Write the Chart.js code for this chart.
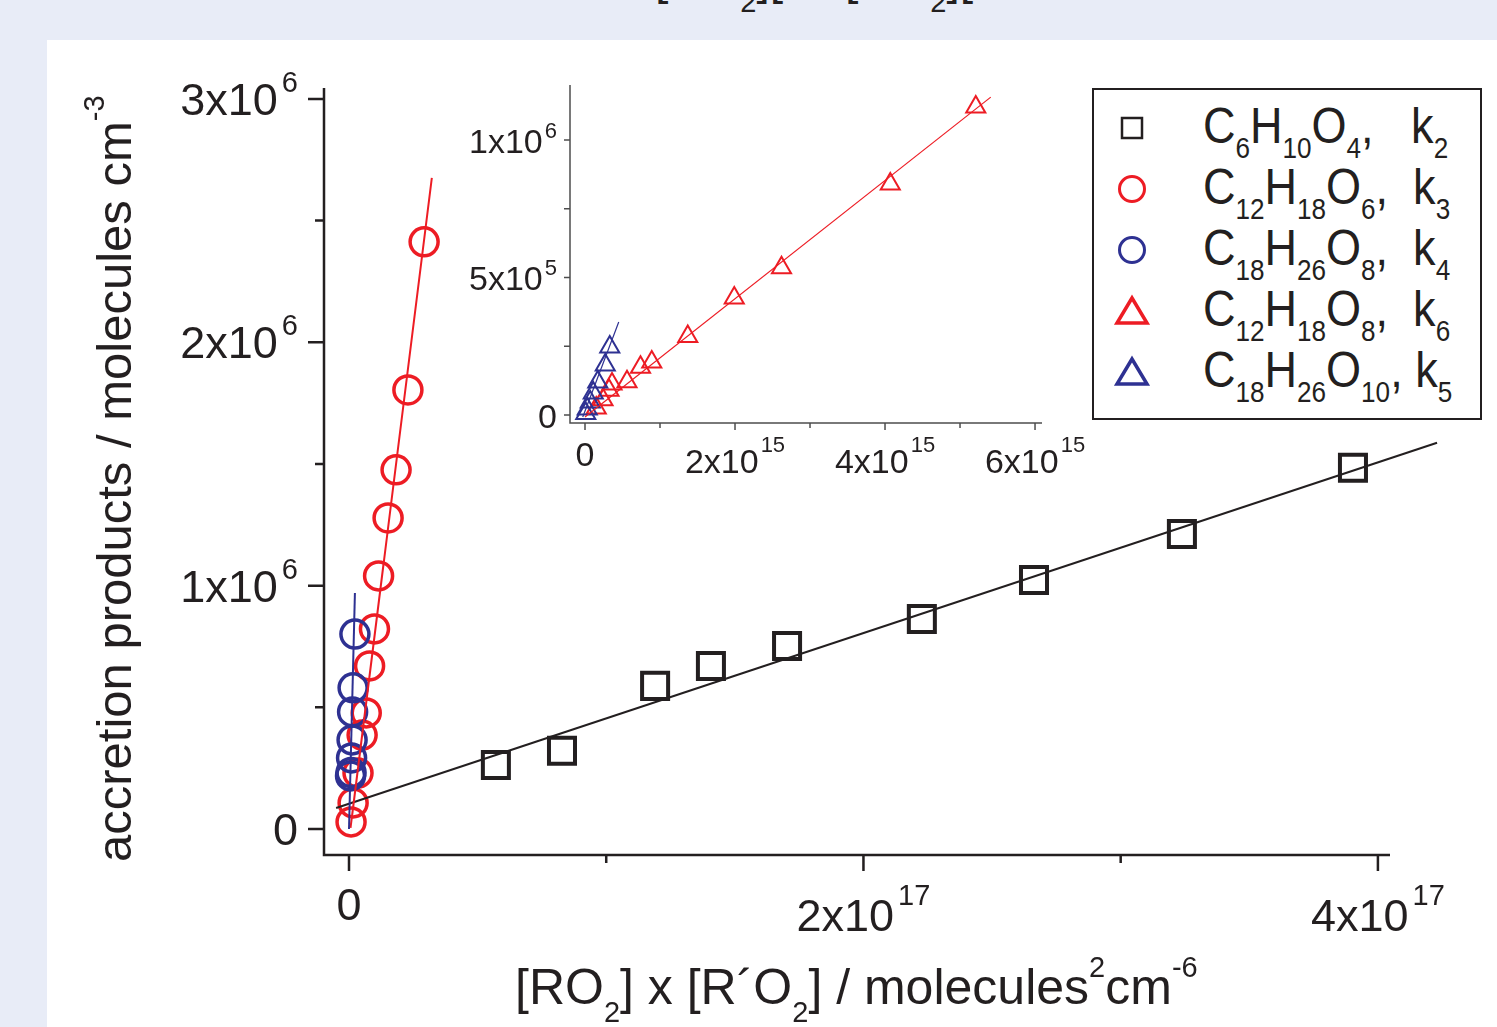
<!DOCTYPE html>
<html lang="en">
<head>
  <meta charset="UTF-8">
  <title>Accretion products vs [RO2] x [R'O2]</title>
  <script src="https://cdn.jsdelivr.net/npm/chart.js"></script>
  <style>
    html, body { margin: 0; padding: 0; }
    body {
      width: 1497px; height: 1027px; overflow: hidden; position: relative;
      background: #e8ecf7;
      font-family: 'Liberation Sans', Arial, sans-serif;
      color: #231f20;
    }
    .panel { position: absolute; left: 47px; top: 40px; right: 0; bottom: 0; background: #fff; }
    /* leftover line of the previous figure, only its bottom shows */
    .cut-text { position: absolute; top: -46px; font-size: 48px; line-height: 1; white-space: nowrap; }
    sub { font-size: 29px; vertical-align: -18px; line-height: 0; }
    sup { font-size: 29px; vertical-align: 27px; line-height: 0; }
    #mainChart { position: absolute; left: 0; top: 0; }
    #insetChart { position: absolute; left: 440px; top: 40px; }
    .y-title {
      position: absolute; left: 90px; top: 862px; font-size: 49px; line-height: 1;
      white-space: nowrap; transform: rotate(-90deg); transform-origin: 0 0;
    }
    .x-title {
      position: absolute; left: 515px; top: 962px; font-size: 50px; line-height: 1; white-space: nowrap;
    }
    .legend {
      position: absolute; left: 1092px; top: 88px; width: 390px; height: 332px;
      box-sizing: border-box; border: 2.5px solid #231f20; background: #fff;
    }
    .legend .row { position: absolute; left: 0; width: 100%; height: 61px; }
    .legend svg { position: absolute; left: 18px; top: 10px; }
    .legend .txt {
      position: absolute; left: 109px; top: 3px; font-size: 50px; line-height: 1; white-space: nowrap;
      transform: scaleX(0.9); transform-origin: 0 0;
    }
    .legend .txt sub { font-size: 29px; vertical-align: -15px; }
  </style>
</head>
<body>
  <div class="cut-text" style="left:655px">[RO<sub>2</sub>][</div>
  <div class="cut-text" style="left:845px">[RO<sub>2</sub>][</div>
  <div class="panel"></div>

  <canvas id="mainChart" width="1497" height="1027"></canvas>
  <canvas id="insetChart" width="660" height="460"></canvas>

  <div class="y-title">accretion products / molecules cm<sup>-3</sup></div>
  <div class="x-title">[RO<sub>2</sub>] x [R&#180;O<sub>2</sub>] / molecules<sup>2</sup>cm<sup>-6</sup></div>

  <!-- legend: formulas need subscripts, so it is plain html -->
  <div class="legend">
    <div class="row" style="top:8px">
      <svg width="40" height="40"><rect x="10" y="10" width="20" height="20" fill="none" stroke="#231f20" stroke-width="2.5"/></svg>
      <span class="txt">C<sub>6</sub>H<sub>10</sub>O<sub>4</sub>,&nbsp;&nbsp; k<sub>2</sub></span>
    </div>
    <div class="row" style="top:69px">
      <svg width="40" height="40"><circle cx="20" cy="20" r="12.5" fill="none" stroke="#ed1c24" stroke-width="3"/></svg>
      <span class="txt">C<sub>12</sub>H<sub>18</sub>O<sub>6</sub>,&nbsp; k<sub>3</sub></span>
    </div>
    <div class="row" style="top:130px">
      <svg width="40" height="40"><circle cx="20" cy="20" r="12.5" fill="none" stroke="#2e3192" stroke-width="3"/></svg>
      <span class="txt">C<sub>18</sub>H<sub>26</sub>O<sub>8</sub>,&nbsp; k<sub>4</sub></span>
    </div>
    <div class="row" style="top:191px">
      <svg width="40" height="40"><polygon points="20,7 35,32 5,32" fill="none" stroke="#ed1c24" stroke-width="3.5"/></svg>
      <span class="txt">C<sub>12</sub>H<sub>18</sub>O<sub>8</sub>,&nbsp; k<sub>6</sub></span>
    </div>
    <div class="row" style="top:252px">
      <svg width="40" height="40"><polygon points="20,7 35,32 5,32" fill="none" stroke="#2e3192" stroke-width="3.5"/></svg>
      <span class="txt">C<sub>18</sub>H<sub>26</sub>O<sub>10</sub>, k<sub>5</sub></span>
    </div>
  </div>

  <script>
    // ---- main plot data (x: molecules^2 cm^-6, y: molecules cm^-3) ----
    const k2X = [0.571e17, 0.828e17, 1.190e17, 1.407e17, 1.703e17, 2.227e17, 2.663e17, 3.238e17, 3.903e17];
    const k2Y = [0.263e6, 0.321e6, 0.588e6, 0.670e6, 0.752e6, 0.863e6, 1.023e6, 1.212e6, 1.484e6];
    const k3X = [0.008e17, 0.016e17, 0.035e17, 0.051e17, 0.067e17, 0.080e17, 0.099e17, 0.115e17, 0.152e17, 0.183e17, 0.229e17, 0.292e17];
    const k3Y = [0.029e6, 0.107e6, 0.230e6, 0.386e6, 0.477e6, 0.670e6, 0.822e6, 1.040e6, 1.278e6, 1.476e6, 1.804e6, 2.413e6];
    const k4X = [0.006e17, 0.008e17, 0.010e17, 0.012e17, 0.014e17, 0.016e17, 0.023e17];
    const k4Y = [0.218e6, 0.232e6, 0.292e6, 0.366e6, 0.481e6, 0.580e6, 0.801e6];
    // fitted lines (end points)
    const fitK2X = [-0.05e17, 4.23e17], fitK2Y = [0.086e6, 1.587e6];
    const fitK3X = [0.006e17, 0.322e17], fitK3Y = [0.004e6, 2.676e6];
    const fitK4X = [0.000e17, 0.023e17], fitK4Y = [0.000e6, 0.970e6];

    // ---- inset data ----
    const k6X = [0.15e15, 0.24e15, 0.32e15, 0.36e15, 0.56e15, 0.74e15, 0.89e15, 1.37e15, 1.99e15, 2.62e15, 4.07e15, 5.21e15];
    const k6Y = [0.025e6, 0.055e6, 0.090e6, 0.113e6, 0.121e6, 0.174e6, 0.193e6, 0.285e6, 0.425e6, 0.535e6, 0.840e6, 1.120e6];
    const k5X = [0.01e15, 0.03e15, 0.07e15, 0.11e15, 0.17e15, 0.27e15, 0.33e15];
    const k5Y = [0.005e6, 0.022e6, 0.047e6, 0.080e6, 0.120e6, 0.182e6, 0.247e6];
    const fitK6X = [0.00e15, 5.41e15], fitK6Y = [-0.007e6, 1.156e6];
    const fitK5X = [-0.03e15, 0.45e15], fitK5Y = [-0.007e6, 0.338e6];

    // ---- tick labels ----
    const mainXTicks = [0, 2e17, 4e17], mainXBase = ['0', '2x10', '4x10'], mainXExp = ['', '17', '17'];
    const mainXMinor = [1e17, 3e17];
    const mainYTicks = [0, 1e6, 2e6, 3e6], mainYBase = ['0', '1x10', '2x10', '3x10'], mainYExp = ['', '6', '6', '6'];
    const mainYMinor = [0.5e6, 1.5e6, 2.5e6];
    const insetXTicks = [0, 2e15, 4e15, 6e15], insetXBase = ['0', '2x10', '4x10', '6x10'], insetXExp = ['', '15', '15', '15'];
    const insetXMinor = [1e15, 3e15, 5e15];
    const insetYTicks = [0, 5e5, 1e6], insetYBase = ['0', '5x10', '1x10'], insetYExp = ['', '5', '6'];
    const insetYMinor = [2.5e5, 7.5e5];

    const BLACK = '#231f20', RED = '#ed1c24', BLUE = '#2e3192';
    const FONT = '"Liberation Sans", Arial, sans-serif';

    function pts(xs, ys) { return xs.map((x, i) => ({ x: x, y: ys[i] })); }

    // draws axis lines, major/minor ticks and the x10^n labels
    function drawAxes(chart, ax) {
      const ctx = chart.ctx;
      const xs = chart.scales.x, ys = chart.scales.y;
      const a = chart.chartArea;
      ctx.save();
      ctx.strokeStyle = ax.color;
      ctx.lineWidth = ax.lineWidth;
      ctx.beginPath();
      ctx.moveTo(a.left, a.top);
      ctx.lineTo(a.left, a.bottom);
      ctx.lineTo(a.right, a.bottom);
      ctx.stroke();

      ctx.lineWidth = ax.tickWidth;
      ctx.beginPath();
      ax.xTicks.forEach(v => { const p = xs.getPixelForValue(v); ctx.moveTo(p, a.bottom); ctx.lineTo(p, a.bottom + ax.xMajorLen); });
      ax.xMinor.forEach(v => { const p = xs.getPixelForValue(v); ctx.moveTo(p, a.bottom); ctx.lineTo(p, a.bottom + ax.xMinorLen); });
      ax.yTicks.forEach(v => { const p = ys.getPixelForValue(v); ctx.moveTo(a.left, p); ctx.lineTo(a.left - ax.yMajorLen, p); });
      ax.yMinor.forEach(v => { const p = ys.getPixelForValue(v); ctx.moveTo(a.left, p); ctx.lineTo(a.left - ax.yMinorLen, p); });
      ctx.stroke();

      ctx.fillStyle = BLACK;
      ctx.textAlign = 'left';
      ctx.textBaseline = 'alphabetic';
      const baseFont = ax.baseSize + 'px ' + FONT, expFont = ax.expSize + 'px ' + FONT;
      function widths(b, e) {
        ctx.font = baseFont; const wb = ctx.measureText(b).width;
        ctx.font = expFont; const we = e ? ctx.measureText(e).width + ax.expGap : 0;
        return [wb, we];
      }
      ax.xTicks.forEach((v, i) => {
        const p = xs.getPixelForValue(v);
        const [wb, we] = widths(ax.xBase[i], ax.xExp[i]);
        const x0 = p - (wb + we) / 2;
        ctx.font = baseFont;
        ctx.fillText(ax.xBase[i], x0, a.bottom + (ax.xExp[i] ? ax.xBaseOffExp : ax.xBaseOff));
        if (ax.xExp[i]) { ctx.font = expFont; ctx.fillText(ax.xExp[i], x0 + wb + ax.expGap, a.bottom + ax.xExpOff); }
      });
      ax.yTicks.forEach((v, i) => {
        const p = ys.getPixelForValue(v);
        const [wb, we] = widths(ax.yBase[i], ax.yExp[i]);
        const x0 = a.left - ax.yGap - wb - we;
        ctx.font = baseFont;
        ctx.fillText(ax.yBase[i], x0, p + ax.yBaseOff);
        if (ax.yExp[i]) { ctx.font = expFont; ctx.fillText(ax.yExp[i], x0 + wb + ax.expGap, p + ax.yExpOff); }
      });
      ctx.restore();
    }

    const axesPlugin = {
      id: 'customAxes',
      afterDraw(chart, args, opts) { drawAxes(chart, opts); }
    };

    // ---- main chart ----
    new Chart(document.getElementById('mainChart'), {
      type: 'scatter',
      data: {
        datasets: [
          { label: 'C6H10O4, k2', data: pts(k2X, k2Y), pointStyle: 'rect', pointRadius: 18.4,
            borderColor: BLACK, backgroundColor: 'transparent', pointBorderWidth: 4, order: 6 },
          { label: 'C12H18O6, k3', data: pts(k3X, k3Y), pointStyle: 'circle', pointRadius: 14,
            borderColor: RED, backgroundColor: 'transparent', pointBorderWidth: 3.5, order: 5 },
          { label: 'C18H26O8, k4', data: pts(k4X, k4Y), pointStyle: 'circle', pointRadius: 14,
            borderColor: BLUE, backgroundColor: 'transparent', pointBorderWidth: 3.5, order: 4 },
          { label: 'fit k2', data: pts(fitK2X, fitK2Y), showLine: true, pointRadius: 0,
            borderColor: BLACK, borderWidth: 2, order: 3 },
          { label: 'fit k3', data: pts(fitK3X, fitK3Y), showLine: true, pointRadius: 0,
            borderColor: RED, borderWidth: 2, order: 2 },
          { label: 'fit k4', data: pts(fitK4X, fitK4Y), showLine: true, pointRadius: 0,
            borderColor: BLUE, borderWidth: 2, order: 1 }
        ]
      },
      options: {
        responsive: false,
        animation: false,
        clip: false,
        layout: { padding: { left: 324, right: 107, top: 88, bottom: 172 } },
        scales: {
          x: { type: 'linear', display: false, min: -0.0972e17, max: 4.047e17 },
          y: { type: 'linear', display: false, min: -0.107e6, max: 3.045e6 }
        },
        plugins: {
          legend: { display: false },
          tooltip: { enabled: false },
          customAxes: {
            color: BLACK, lineWidth: 2.5, tickWidth: 2.5,
            xMajorLen: 16, xMinorLen: 8, yMajorLen: 16, yMinorLen: 9,
            xTicks: mainXTicks, xBase: mainXBase, xExp: mainXExp, xMinor: mainXMinor,
            yTicks: mainYTicks, yBase: mainYBase, yExp: mainYExp, yMinor: mainYMinor,
            baseSize: 45, expSize: 29, expGap: 4,
            xBaseOff: 65, xBaseOffExp: 76, xExpOff: 50,
            yGap: 26, yBaseOff: 16, yExpOff: -7
          }
        }
      },
      plugins: [axesPlugin]
    });

    // ---- inset chart ----
    new Chart(document.getElementById('insetChart'), {
      type: 'scatter',
      data: {
        datasets: [
          { label: 'C12H18O8, k6', data: pts(k6X, k6Y), pointStyle: 'triangle', pointRadius: 11,
            borderColor: RED, backgroundColor: 'transparent', pointBorderWidth: 2, order: 4 },
          { label: 'C18H26O10, k5', data: pts(k5X, k5Y), pointStyle: 'triangle', pointRadius: 11,
            borderColor: BLUE, backgroundColor: 'transparent', pointBorderWidth: 2, order: 3 },
          { label: 'fit k6', data: pts(fitK6X, fitK6Y), showLine: true, pointRadius: 0,
            borderColor: RED, borderWidth: 1.2, order: 2 },
          { label: 'fit k5', data: pts(fitK5X, fitK5Y), showLine: true, pointRadius: 0,
            borderColor: BLUE, borderWidth: 1.2, order: 1 }
        ]
      },
      options: {
        responsive: false,
        animation: false,
        clip: false,
        layout: { padding: { left: 130, right: 58, top: 45, bottom: 77 } },
        scales: {
          x: { type: 'linear', display: false, min: -0.2e15, max: 6.093e15 },
          y: { type: 'linear', display: false, min: -0.0291e6, max: 1.2e6 }
        },
        plugins: {
          legend: { display: false },
          tooltip: { enabled: false },
          customAxes: {
            color: '#4d4d4d', lineWidth: 1.5, tickWidth: 1.5,
            xMajorLen: 7, xMinorLen: 5, yMajorLen: 6, yMinorLen: 6,
            xTicks: insetXTicks, xBase: insetXBase, xExp: insetXExp, xMinor: insetXMinor,
            yTicks: insetYTicks, yBase: insetYBase, yExp: insetYExp, yMinor: insetYMinor,
            baseSize: 34, expSize: 22, expGap: 2,
            xBaseOff: 43, xBaseOffExp: 50, xExpOff: 29,
            yGap: 13, yBaseOff: 13, yExpOff: -2
          }
        }
      },
      plugins: [axesPlugin]
    });
  </script>
</body>
</html>
